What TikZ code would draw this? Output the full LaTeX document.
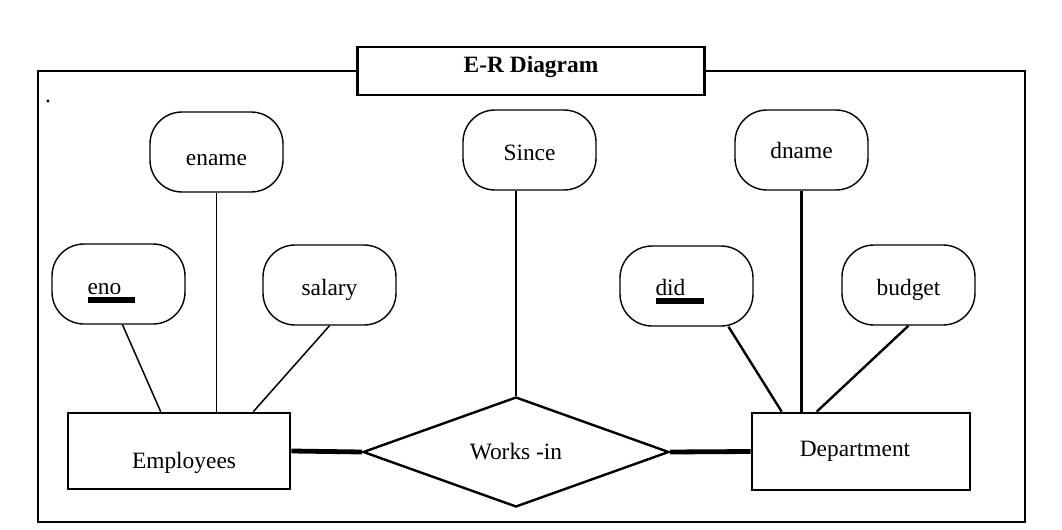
\documentclass[tikz,border=0pt]{standalone}
\usepackage{fontspec}
\setmainfont{Liberation Serif}
\usetikzlibrary{shapes.geometric,positioning}

% key attribute: text with a heavy bar under it
\newcommand{\pkey}[1]{\vtop{\hbox to 24pt{#1\hfil}\kern1.5pt\hrule height 2.8pt}\kern7pt}

\tikzset{
  attr/.style={draw, line width=0.7pt, rounded corners=16pt, minimum width=66.5pt, minimum height=40pt, inner sep=0pt},
  entity/.style={draw, line width=1.3pt, inner sep=0pt},
  rel/.style={draw, diamond, line width=1.2pt, minimum width=153pt, minimum height=55pt, inner sep=0pt},
  link/.style={line width=0.75pt},
  strong/.style={line width=2.4pt}
}

\begin{document}
\begin{tikzpicture}[x=0.5pt, y=-0.5pt, font=\fontsize{11.7pt}{13pt}\selectfont]
				\useasboundingbox (0,0) rectangle (1062,530);
				% outer frame and title
				\draw[line width=1.1pt] (38,71) rectangle (1025,522);
				\node[draw, fill=white, line width=1.1pt, minimum width=173.5pt, minimum height=24pt, text depth=7pt, font=\fontsize{11.7pt}{13pt}\selectfont\bfseries] (title) at (531,71) {E-R Diagram};
				\node[inner sep=0pt] (dot) at (48,101) {.};
				% entities and relationship
				\node[entity, minimum width=111pt, minimum height=38pt, text height=17.4pt, text depth=0pt] (emp) at (179,451) {\kern5pt Employees};
				\node[entity, minimum width=109pt, minimum height=38.5pt] (dept) at (861,451.5) {Department\kern6pt};
				\node[rel] (works) at (516,452) {Works -in};
				% attributes
				\node[attr, text height=13.4pt, text depth=0pt] (ename) at (216.5,152) {ename};
				\node[attr, text height=10.4pt, text depth=0pt] (since) at (529.5,150) {Since};
				\node[attr] (dname) at (801.5,150) {dname};
				\node[attr, text height=14pt, text depth=4pt] (eno) at (118.5,284) {\pkey{eno}};
				\node[attr, text height=10pt, text depth=0pt] (salary) at (329.5,285) {salary};
				\node[attr, text height=13pt, text depth=4pt] (did) at (686.5,286) {\pkey{did}};
				\node[attr, text height=10pt, text depth=0pt] (budget) at (908.5,285) {budget};
				% connectors
				\draw[link] ([xshift=2pt]eno.south) -- ([xshift=47pt]emp.north west);
				\draw[link] (ename.south) -- (ename.south |- emp.north);
				\draw[link] (salary.south) -- ([xshift=-19pt]emp.north east);
				\draw[line width=1.2pt] (works.north) -- (works.north |- since.south);
				\draw[line width=1.2pt] ([xshift=21pt]did.south) -- ([xshift=15.5pt]dept.north west);
				\draw[line width=1.2pt] (dname.south) -- (dname.south |- dept.north);
				\draw[line width=1.2pt] (budget.south) -- ([xshift=33pt]dept.north west);
				\draw[strong] (emp.east) -- (works.west);
				\draw[strong] (works.east) -- (dept.west);
			\end{tikzpicture}
\end{document}
